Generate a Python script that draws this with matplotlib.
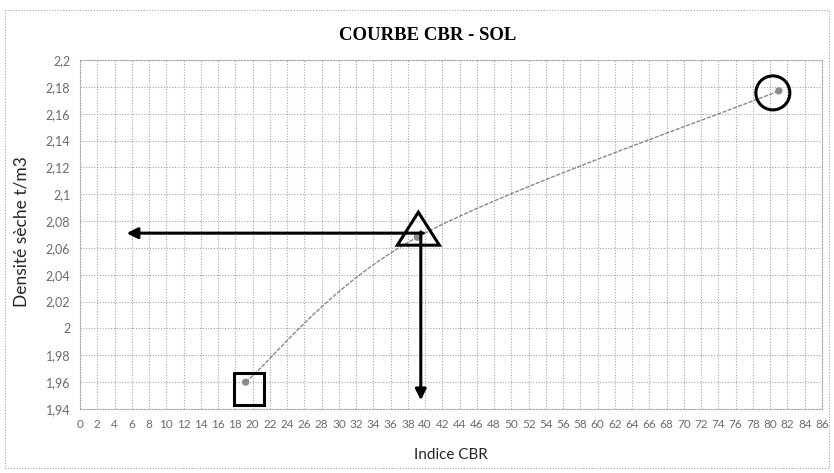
import matplotlib.pyplot as plt
import numpy as np
from matplotlib.patches import Rectangle, Circle, Polygon

# CBR test results: index vs dry density
cbr_index = [19.2, 39.1, 81.0]
dry_density = [1.960, 2.068, 2.177]

# value at 95 % compaction
cbr_read = 39.5
density_read = 2.071

x_ticks = list(range(0, 88, 2))
y_ticks = [1.94, 1.96, 1.98, 2.00, 2.02, 2.04, 2.06, 2.08, 2.10, 2.12, 2.14, 2.16, 2.18, 2.20]

XMIN, XMAX = 0, 86
YMIN, YMAX = 1.94, 2.20

GRID = "#a6a6a6"
TICK = "#6b6b6b"


def fmt_fr(v):
    s = f"{v:.2f}".rstrip("0").rstrip(".")
    return s.replace(".", ",")


def smooth_curve(ax, xs, ys, n=60):
    # Bezier smoothing done in pixel space, like a spreadsheet "smoothed line"
    pts = ax.transData.transform(np.column_stack([xs, ys]))
    p = np.vstack([pts[0], pts, pts[-1]])
    out = []
    for i in range(1, len(p) - 2):
        p0, p1, p2, p3 = p[i - 1], p[i], p[i + 1], p[i + 2]
        c1 = p1 + (p2 - p0) / 6.0
        c2 = p2 - (p3 - p1) / 6.0
        t = np.linspace(0, 1, n)[:, None]
        seg = (1 - t) ** 3 * p1 + 3 * (1 - t) ** 2 * t * c1 + 3 * (1 - t) * t ** 2 * c2 + t ** 3 * p2
        out.append(seg)
    curve = np.vstack(out)
    return ax.transData.inverted().transform(curve)


fig = plt.figure(figsize=(8.34, 4.73), dpi=100)
ax = fig.add_axes([80 / 834, 1 - 409 / 473, 742 / 834, 349 / 473])
ax.set_xlim(XMIN, XMAX)
ax.set_ylim(YMIN, YMAX)

ax.set_xticks(x_ticks)
ax.set_xticklabels([str(v) for v in x_ticks], fontsize=8.5, color=TICK, family="Lato")
ax.set_yticks(y_ticks)
ax.set_yticklabels([fmt_fr(v) for v in y_ticks], fontsize=9, color=TICK, family="Lato")
ax.tick_params(length=0, pad=7)
ax.grid(True, color=GRID, linestyle=(0, (1, 1.5)), linewidth=0.8)
for sp in ax.spines.values():
    sp.set_color(GRID)
    sp.set_linestyle((0, (1, 1.5)))
    sp.set_linewidth(0.8)

# smoothed curve and measured points
curve = smooth_curve(ax, cbr_index, dry_density)
ax.plot(curve[:, 0], curve[:, 1], color="#8a8a8a", linewidth=1.0, linestyle=(0, (3, 1)), zorder=3)
ax.scatter(cbr_index, dry_density, s=28, color="#8c8c8c", zorder=4, edgecolor="none")

# hand markings around the points
to_px = ax.transData.transform
to_data = ax.transData.inverted().transform


def px_shape(cx, cy, verts):
    return [to_data((cx + dx, cy + dy)) for dx, dy in verts]


sx, sy = to_px((cbr_index[0], dry_density[0]))
ax.add_patch(Polygon(px_shape(sx + 3, sy - 7, [(-15, -16), (15, -16), (15, 16), (-15, 16)]),
                     closed=True, fill=False, edgecolor="black", linewidth=2.2, zorder=5))
tx, ty = to_px((cbr_index[1], dry_density[1]))
ax.add_patch(Polygon(px_shape(tx + 1, ty, [(-21, -8), (21, -8), (0, 25)]),
                     closed=True, fill=False, edgecolor="black", linewidth=2.2, zorder=5))
cx, cy = to_px((cbr_index[2], dry_density[2]))
circ = Circle((cx - 6, cy - 2), 17, transform=None, fill=False, edgecolor="black", linewidth=2.2, zorder=5)
ax.add_artist(circ)

# read-off arrows
ax.annotate("", xy=(5.4, density_read), xytext=(cbr_read + 0.3, density_read),
            arrowprops=dict(arrowstyle="-|>", color="black", lw=2.2, mutation_scale=16, shrinkA=0, shrinkB=0),
            zorder=6)
ax.annotate("", xy=(cbr_read, 1.9465), xytext=(cbr_read, density_read + 0.001),
            arrowprops=dict(arrowstyle="-|>", color="black", lw=2.2, mutation_scale=16, shrinkA=0, shrinkB=0),
            zorder=6)

fig.text(428 / 834, 1 - 35 / 473, "COURBE CBR - SOL", ha="center", va="center",
         fontsize=13.5, fontweight="bold", family="Liberation Serif")
fig.text(451 / 834, 1 - 455 / 473, "Indice CBR", ha="center", va="center", fontsize=11,
         family="Lato", color="#262626")
fig.text(22 / 834, 1 - 232 / 473, "Densité sèche t/m3", ha="center", va="center", rotation=90,
         fontsize=12.5, family="Lato", color="#262626")

# chart area border
fig.patches.append(Rectangle((5 / 834, 1 - 468 / 473), 824 / 834, 458 / 473, transform=fig.transFigure,
                             fill=False, edgecolor=GRID, linewidth=0.8, linestyle=(0, (1, 1.5))))

fig.savefig("out.png", dpi=100)
